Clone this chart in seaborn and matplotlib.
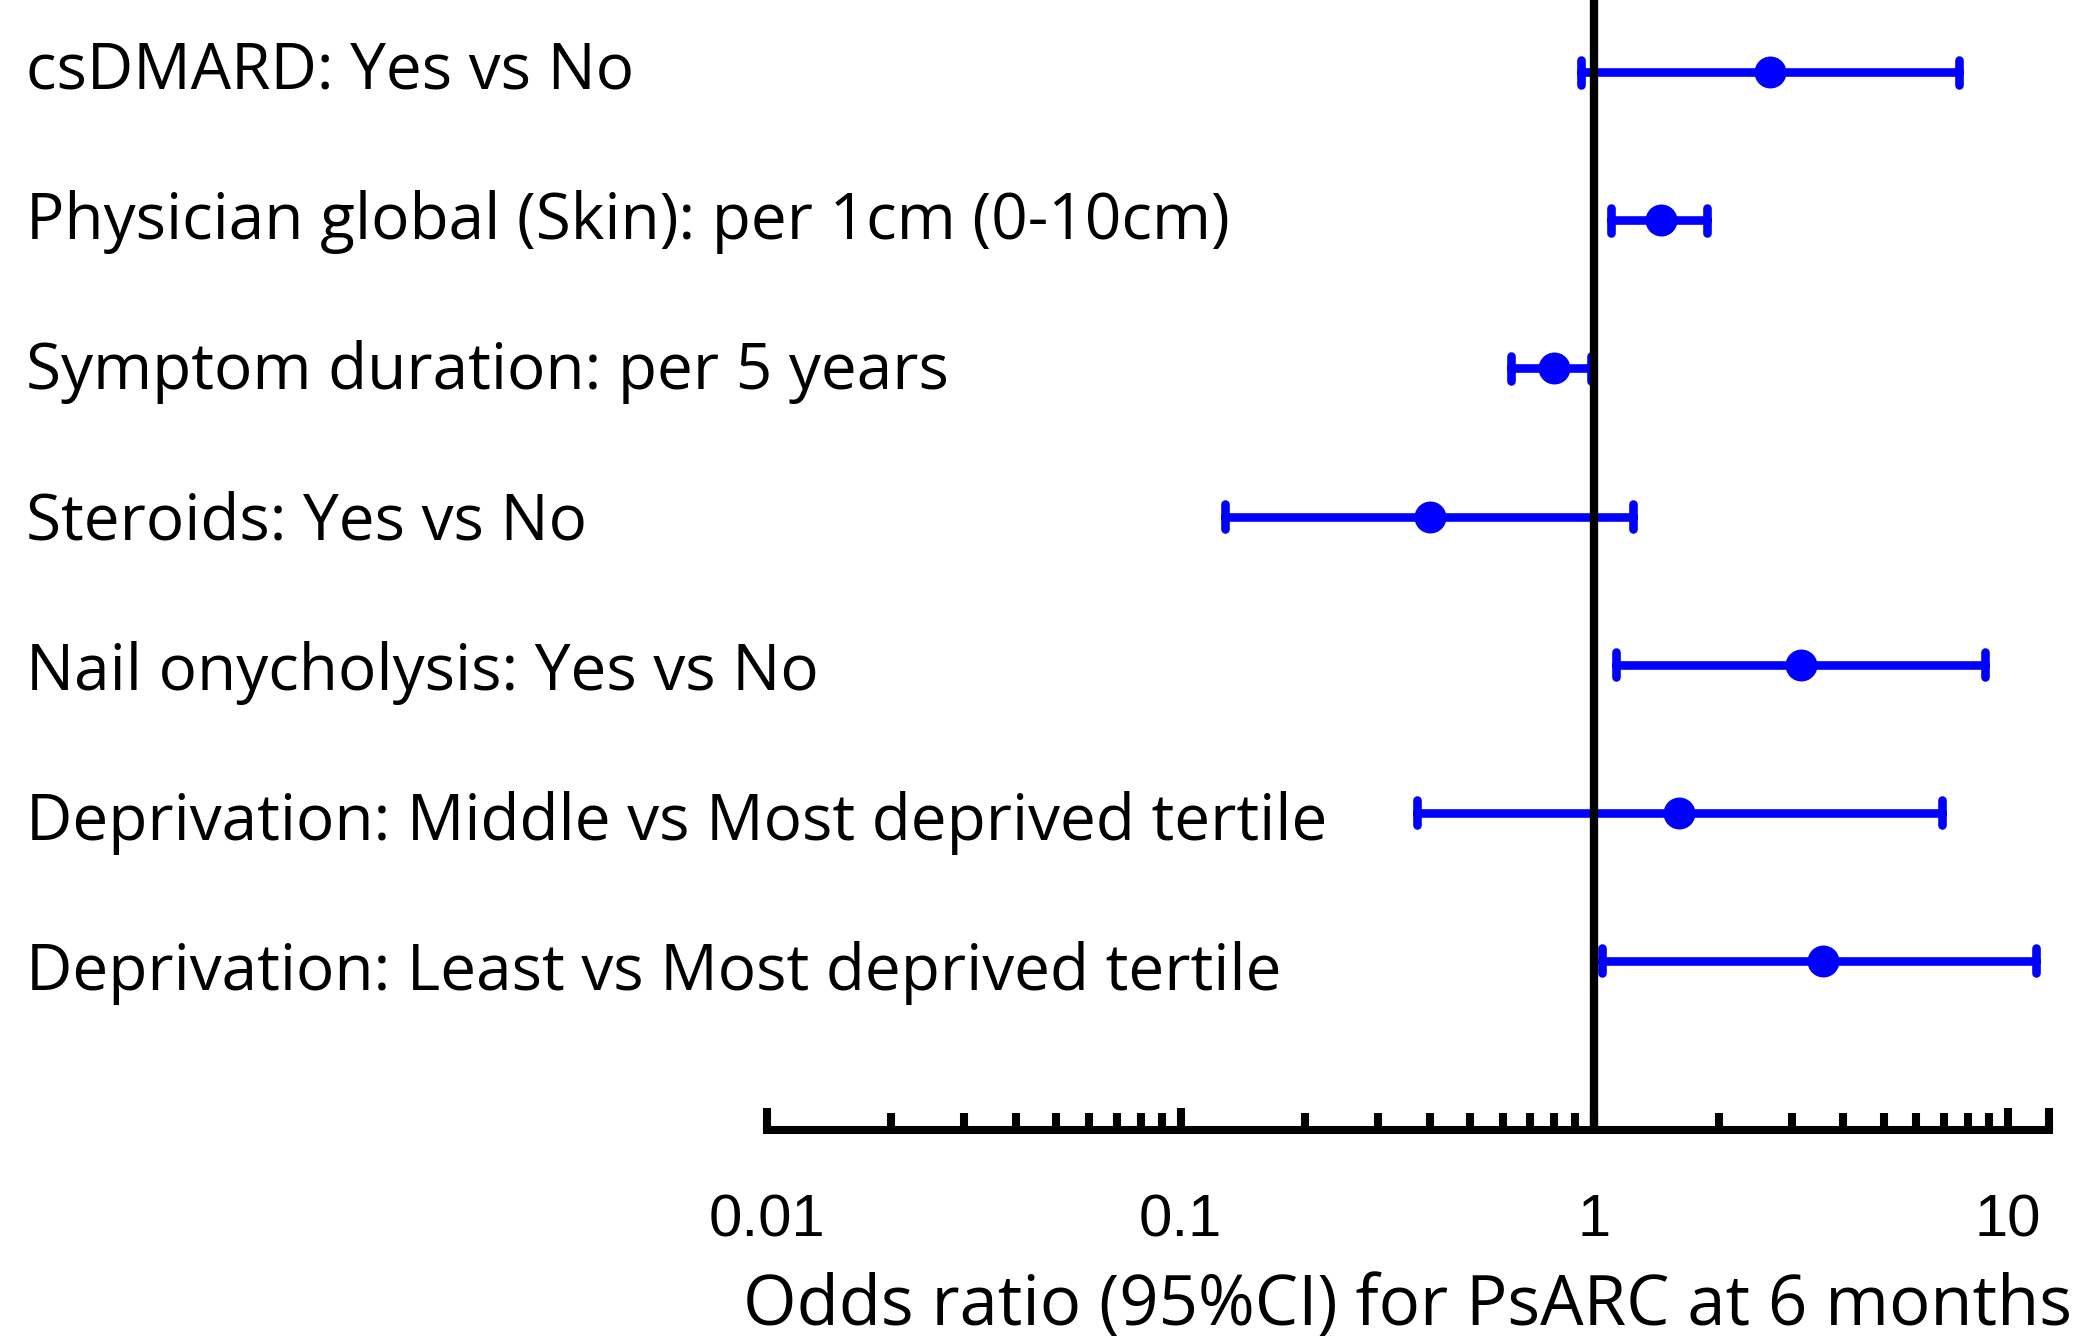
import numpy as np
import pandas as pd
import matplotlib
matplotlib.use("Agg")
import matplotlib.pyplot as plt
import matplotlib.ticker as ticker
import matplotlib.transforms as transforms
import seaborn as sns


#############################################################
#                 DADOS                    #
#############################################################

labels = [
    "csDMARD: Yes vs No",
    "Physician global (Skin): per 1cm (0-10cm)",
    "Symptom duration: per 5 years",
    "Steroids: Yes vs No",
    "Nail onycholysis: Yes vs No",
    "Deprivation: Middle vs Most deprived tertile",
    "Deprivation: Least vs Most deprived tertile",
]
odds = [2.66, 1.45, 0.80, 0.40, 3.16, 1.60, 3.56]
ci_low = [0.93, 1.10, 0.63, 0.128, 1.13, 0.372, 1.045]
ci_high = [7.6, 1.87, 0.98, 1.24, 8.79, 6.92, 11.7]

tick_values = [0.01, 0.1, 1, 10, 12.55]
tick_labels = ["0.01", "0.1", "1", "10", ""]
x_label = "Odds ratio (95%CI) for PsARC at 6 months"


# formato longo: cada categoria tem (limite inferior, estimativa, limite superior)
# a mediana devolve a estimativa e o intervalo 0-100% devolve o IC
df = pd.DataFrame({
    "label": np.repeat(labels, 3),
    "value": np.column_stack([ci_low, odds, ci_high]).ravel(),
})

sns.set_style("white")
plt.rcParams["font.family"] = ["Open Sans", "DejaVu Sans"]
plt.rcParams["text.color"] = "black"
plt.rcParams["axes.labelcolor"] = "black"
plt.rcParams["xtick.color"] = "black"

fig = plt.figure(figsize=(20.92, 13.38), dpi=100)
ax = fig.add_axes([0.3666, 0.1555, 0.6128, 0.8445])

sns.pointplot(
    data=df, x="value", y="label", order=labels,
    estimator="median", errorbar=("pi", 100),
    log_scale=True, color="#0000ff",
    linestyle="none", marker="o", markersize=23, markeredgewidth=0,
    capsize=0.17, err_kws={"linewidth": 6.2},
    ax=ax,
)

# linha de referencia em OR = 1
ax.axvline(1, color="black", linewidth=6, zorder=5)

ax.set_xlim(0.01, 12.55)
ax.set_ylim(7.142, -0.488)

# eixo x
ax.xaxis.set_major_locator(ticker.FixedLocator(tick_values))
ax.xaxis.set_major_formatter(ticker.FixedFormatter(tick_labels))
ax.xaxis.set_minor_locator(ticker.LogLocator(base=10, subs=np.arange(2, 10)))
ax.xaxis.set_minor_formatter(ticker.NullFormatter())
ax.tick_params(axis="x", which="major", bottom=True, direction="in", length=16,
               width=5.8, pad=45.5, labelsize=43, color="black",
               labelcolor="black")
ax.tick_params(axis="x", which="minor", bottom=True, direction="in", length=12,
               width=5.8, color="black")
for lbl in ax.get_xticklabels():
    lbl.set_fontfamily("Liberation Sans")

ax.set_xlabel(x_label, fontsize=49.5, labelpad=17)
ax.set_ylabel("")
ax.set_yticks([])

sns.despine(ax=ax, left=True)
ax.spines["bottom"].set_linewidth(5.8)
ax.spines["bottom"].set_color("black")

# rotulos das linhas alinhados a esquerda da figura
trans = transforms.blended_transform_factory(fig.transFigure, ax.transData)
cap_offset = 0.11
for i, lbl in enumerate(labels):
    ax.text(0.0124, i * 1.015 + cap_offset, lbl, transform=trans,
            ha="left", va="baseline", fontsize=46)

fig.savefig("out.png", dpi=100)
